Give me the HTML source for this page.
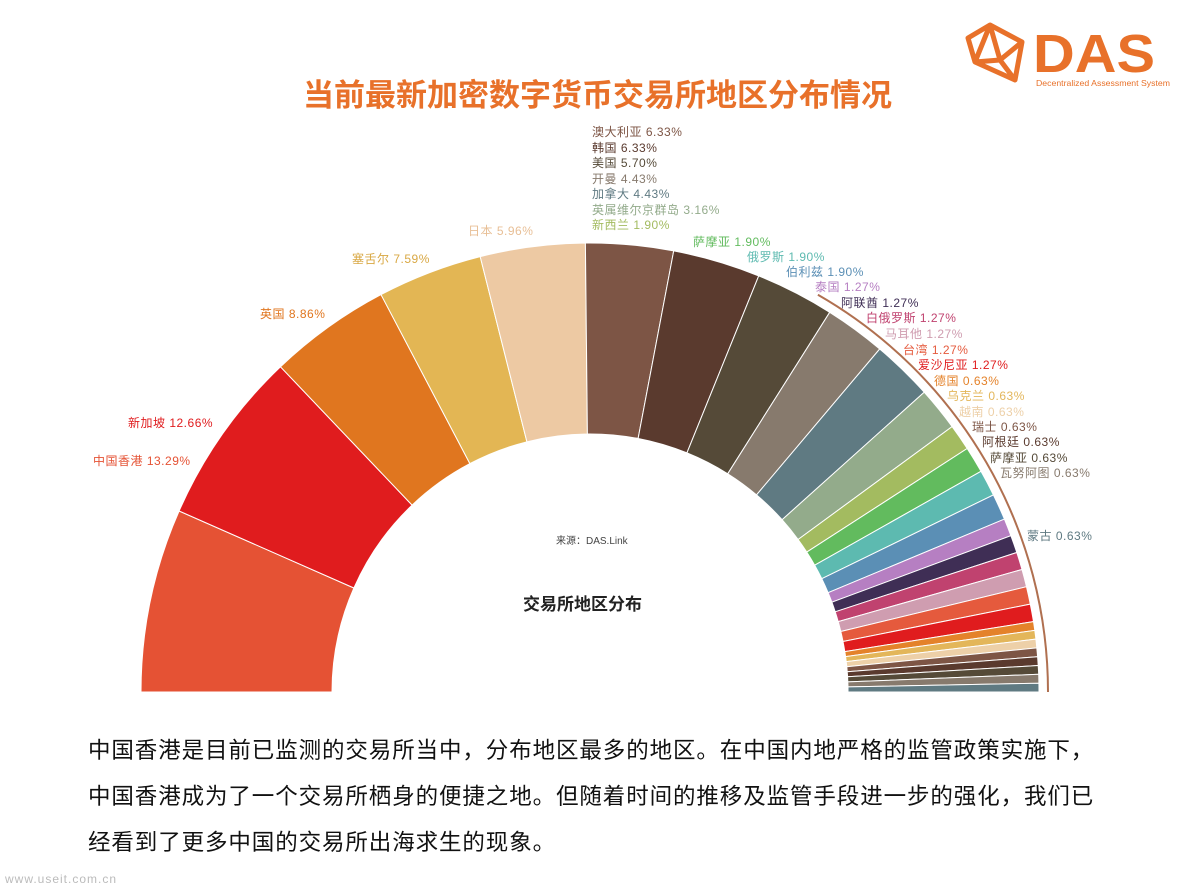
<!DOCTYPE html>
<html><head><meta charset="utf-8"><style>
body{margin:0;background:#fff;width:1195px;height:896px;overflow:hidden;font-family:"Liberation Sans","Noto Sans CJK SC",sans-serif;}
.t{position:absolute;white-space:nowrap}
</style></head><body>
<div class="t" style="left:0;width:1195px;top:70px;text-align:center;font-size:31px;font-weight:bold;color:#e8712a;font-family:'Liberation Sans','Noto Sans CJK SC',sans-serif;">当前最新加密数字货币交易所地区分布情况</div>
<svg width="1195" height="896" style="position:absolute;left:0;top:0" id="s">
<g fill="none" stroke="#e8712a" stroke-width="5" stroke-linejoin="round">
<path d="M990 25 L1022 42 L1015 80 L975 62 Z M990 25 L1000 60 L975 62 M1000 60 L1015 80 M1000 60 L1022 42 M975 62 L968 38 L990 25"/>
</g>
<text x="1033" y="72" font-size="54" font-weight="bold" fill="#e8712a" font-family="Liberation Sans" textLength="122" lengthAdjust="spacingAndGlyphs">DAS</text>
<text x="1036" y="86" font-size="8.5" fill="#e8712a" font-family="Liberation Sans" textLength="134" lengthAdjust="spacingAndGlyphs">Decentralized Assessment System</text>
</svg>
<div class="t" style="left:556px;top:532px;font-size:10px;color:#444">来源：DAS.Link</div>
<div class="t" style="left:523px;top:590px;font-size:17px;font-weight:bold;color:#222">交易所地区分布</div>
<div class="t" style="left:88px;top:728px;font-size:22.5px;line-height:46px;color:#111;letter-spacing:0.9px">中国香港是目前已监测的交易所当中，分布地区最多的地区。在中国内地严格的监管政策实施下，<br>中国香港成为了一个交易所栖身的便捷之地。但随着时间的推移及监管手段进一步的强化，我们已<br>经看到了更多中国的交易所出海求生的现象。</div>
<div class="t" style="left:5px;top:872px;font-size:12px;color:#bbb;letter-spacing:1px">www.useit.com.cn</div>
<script>
var d=[["中国香港",13.29,"#e55234"],["新加坡",12.66,"#e01c1e"],["英国",8.86,"#e0761f"],["塞舌尔",7.59,"#e3b654"],["日本",7.59,"#edc9a3"],
["澳大利亚",6.33,"#7d5545"],["韩国",6.33,"#5a3a2e"],["美国",5.70,"#554a38"],["开曼",4.43,"#877a6d"],["加拿大",4.43,"#5f7a82"],["英属维尔京群岛",3.16,"#93ab8b"],["新西兰",1.90,"#a3bb60"],["萨摩亚",1.90,"#62bb5e"],["俄罗斯",1.90,"#5dbab0"],["伯利兹",1.90,"#5b8fb5"],["泰国",1.27,"#b67fc2"],["阿联酋",1.27,"#3f2e55"],["白俄罗斯",1.27,"#c0426f"],["马耳他",1.27,"#cf9db0"],["台湾",1.27,"#e55a3d"],["爱沙尼亚",1.27,"#e01c1e"],["德国",0.63,"#e4822a"],["乌克兰",0.63,"#e3b65a"],["越南",0.63,"#edd0a8"],["瑞士",0.63,"#7d5545"],["阿根廷",0.63,"#5a3a2e"],["萨摩亚",0.63,"#554a38"],["瓦努阿图",0.63,"#877a6d"],["蒙古",0.63,"#5f7a82"]];
var tot=0;d.forEach(function(e){tot+=e[1]});
var cx=590,cy=692,R=449,r=258,a=Math.PI,s="";
function p(rad,t){return (cx+rad*Math.cos(t)).toFixed(1)+" "+(cy-rad*Math.sin(t)).toFixed(1)}
d.forEach(function(e){var b=a-Math.PI*e[1]/tot;
s+='<path d="M'+p(r,a)+' L'+p(R,a)+' A'+R+' '+R+' 0 0 1 '+p(R,b)+' L'+p(r,b)+' A'+r+' '+r+' 0 0 0 '+p(r,a)+' Z" fill="'+e[2]+'" stroke="#fff" stroke-width="1"/>';a=b;});
s+='<path d="M'+p(458,1.05)+' A458 458 0 0 1 '+p(458,0)+'" fill="none" stroke="#b07050" stroke-width="2"/>';
document.getElementById('s').insertAdjacentHTML('beforeend',s);
var L=[["中国香港 13.29%",93,452,"#e55234"],["新加坡 12.66%",128,414,"#e01c1e"],["英国 8.86%",260,305,"#e0761f"],["塞舌尔 7.59%",352,250,"#d9a844"],["日本 5.96%",468,222,"#e8bf96"],
["澳大利亚 6.33%",592,123,"#7d5545"],["韩国 6.33%",592,139,"#5a3a2e"],["美国 5.70%",592,154,"#554a38"],["开曼 4.43%",592,170,"#877a6d"],["加拿大 4.43%",592,185,"#5f7a82"],["英属维尔京群岛 3.16%",592,201,"#93ab8b"],["新西兰 1.90%",592,216,"#a3bb60"],
["萨摩亚 1.90%",693,233,"#62bb5e"],["俄罗斯 1.90%",747,248,"#5dbab0"],["伯利兹 1.90%",786,263,"#5b8fb5"],["泰国 1.27%",815,278,"#b67fc2"],["阿联酋 1.27%",841,294,"#3f2e55"],["白俄罗斯 1.27%",866,309,"#c0426f"],["马耳他 1.27%",885,325,"#cf9db0"],["台湾 1.27%",903,341,"#e55a3d"],["爱沙尼亚 1.27%",918,356,"#e01c1e"],["德国 0.63%",934,372,"#e4822a"],["乌克兰 0.63%",947,387,"#e3b65a"],["越南 0.63%",959,403,"#edd0a8"],["瑞士 0.63%",972,418,"#7d5545"],["阿根廷 0.63%",982,433,"#5a3a2e"],["萨摩亚 0.63%",990,449,"#554a38"],["瓦努阿图 0.63%",1000,464,"#877a6d"],["蒙古 0.63%",1027,527,"#5f7a82"]];
var h="";L.forEach(function(l){h+='<div class="t" style="left:'+l[1]+'px;top:'+l[2]+'px;font-size:12px;color:'+l[3]+';letter-spacing:0.5px">'+l[0]+'</div>'});
document.body.insertAdjacentHTML('beforeend',h);
</script>
</body></html>
